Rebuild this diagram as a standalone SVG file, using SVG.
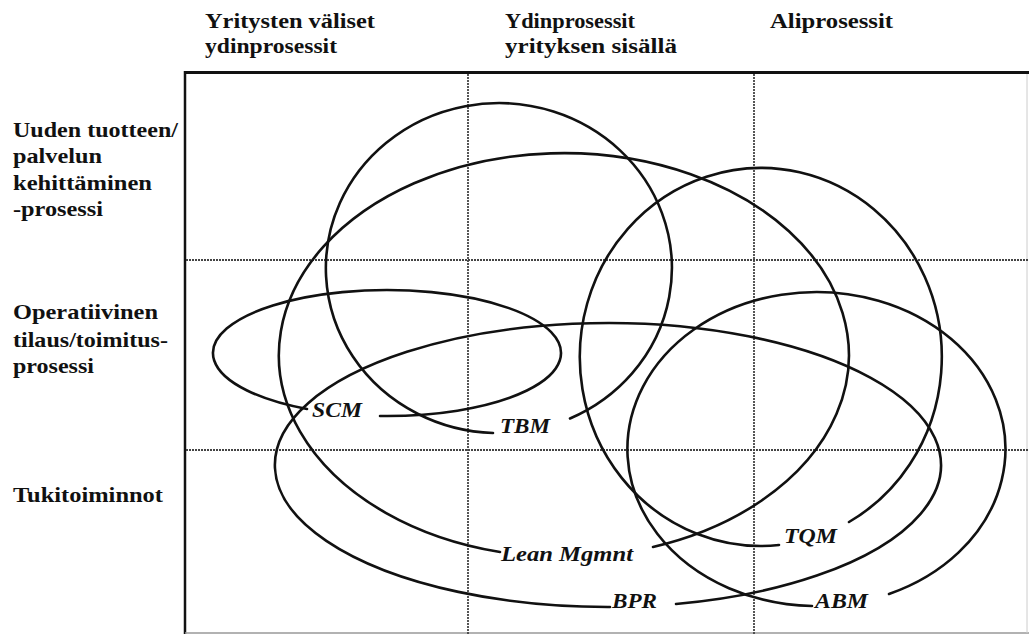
<svg xmlns="http://www.w3.org/2000/svg" width="1029" height="635" viewBox="0 0 1029 635">
  <style>
    .head { font-family: "Liberation Serif", "Times New Roman", serif; font-weight: bold; font-size: 21px; fill: #111; }
    .row { font-family: "Liberation Serif", "Times New Roman", serif; font-weight: bold; font-size: 22px; fill: #111; }
    .tag { font-family: "Liberation Serif", "Times New Roman", serif; font-weight: bold; font-style: italic; font-size: 22px; fill: #111; }
    .frame { stroke: #111; fill: none; }
    .grid { stroke: #444; stroke-width: 1.8; stroke-dasharray: 2 1; fill: none; }
    .loop { stroke: #111; stroke-width: 2.6; fill: none; stroke-linecap: round; }
  </style>
  <rect width="1029" height="635" fill="#ffffff"/>

  <!-- column headings -->
  <g id="col-headings">
    <text class="head" x="205" y="28" textLength="170" lengthAdjust="spacingAndGlyphs">Yritysten väliset</text>
    <text class="head" x="205" y="53" textLength="132" lengthAdjust="spacingAndGlyphs">ydinprosessit</text>
    <text class="head" x="505" y="28" textLength="130" lengthAdjust="spacingAndGlyphs">Ydinprosessit</text>
    <text class="head" x="505" y="53" textLength="172" lengthAdjust="spacingAndGlyphs">yrityksen sisällä</text>
    <text class="head" x="770" y="28" textLength="123" lengthAdjust="spacingAndGlyphs">Aliprosessit</text>
  </g>

  <!-- row headings -->
  <g id="row-headings">
    <text class="row" x="13" y="137" textLength="165" lengthAdjust="spacingAndGlyphs">Uuden tuotteen/</text>
    <text class="row" x="13" y="163" textLength="89" lengthAdjust="spacingAndGlyphs">palvelun</text>
    <text class="row" x="13" y="190" textLength="139" lengthAdjust="spacingAndGlyphs">kehittäminen</text>
    <text class="row" x="13" y="216" textLength="90" lengthAdjust="spacingAndGlyphs">-prosessi</text>
    <text class="row" x="13" y="319" textLength="145" lengthAdjust="spacingAndGlyphs">Operatiivinen</text>
    <text class="row" x="13" y="347" textLength="155" lengthAdjust="spacingAndGlyphs">tilaus/toimitus-</text>
    <text class="row" x="13" y="373" textLength="81" lengthAdjust="spacingAndGlyphs">prosessi</text>
    <text class="row" x="13" y="502" textLength="150" lengthAdjust="spacingAndGlyphs">Tukitoiminnot</text>
  </g>

  <!-- table frame and dotted grid -->
  <g id="grid">
    <line class="frame" x1="184" y1="72.5" x2="1029" y2="72.5" stroke-width="3"/>
    <line class="frame" x1="185" y1="71" x2="185" y2="634" stroke-width="2.5"/>
    <line x1="185" y1="633" x2="1029" y2="633" stroke="#999" stroke-width="1.4"/>
    <line x1="1027" y1="74" x2="1027" y2="633" stroke="#ccc" stroke-width="1"/>
    <line class="grid" x1="468" y1="74" x2="468" y2="634"/>
    <line class="grid" x1="754" y1="74" x2="754" y2="634"/>
    <line class="grid" x1="186" y1="260" x2="1029" y2="260"/>
    <line class="grid" x1="186" y1="450" x2="1029" y2="450"/>
  </g>

  <!-- management approaches: each loop opens where its name sits -->
  <g id="scm">
    <path class="loop" d="M 380 416 A 174 63 0 1 0 307 409"/>
    <text class="tag" x="312" y="417" textLength="50" lengthAdjust="spacingAndGlyphs">SCM</text>
  </g>
  <g id="tbm">
    <path class="loop" d="M 570 418.5 A 173 165 0 1 0 493 433"/>
    <text class="tag" x="500" y="433" textLength="50" lengthAdjust="spacingAndGlyphs">TBM</text>
  </g>
  <g id="lean">
    <path class="loop" d="M 653 547 A 285 202 0 1 0 500 552"/>
    <text class="tag" x="501" y="561" textLength="132" lengthAdjust="spacingAndGlyphs">Lean Mgmnt</text>
  </g>
  <g id="tqm">
    <path class="loop" d="M 849 522 A 181 189 0 1 0 779 545"/>
    <text class="tag" x="784" y="543" textLength="53" lengthAdjust="spacingAndGlyphs">TQM</text>
  </g>
  <g id="bpr">
    <path class="loop" d="M 676 604 A 333 142 0 1 0 610 607"/>
    <text class="tag" x="612" y="608" textLength="45" lengthAdjust="spacingAndGlyphs">BPR</text>
  </g>
  <g id="abm">
    <path class="loop" d="M 889 594 A 189 157 0 1 0 812 606"/>
    <text class="tag" x="815" y="608" textLength="53" lengthAdjust="spacingAndGlyphs">ABM</text>
  </g>
</svg>
